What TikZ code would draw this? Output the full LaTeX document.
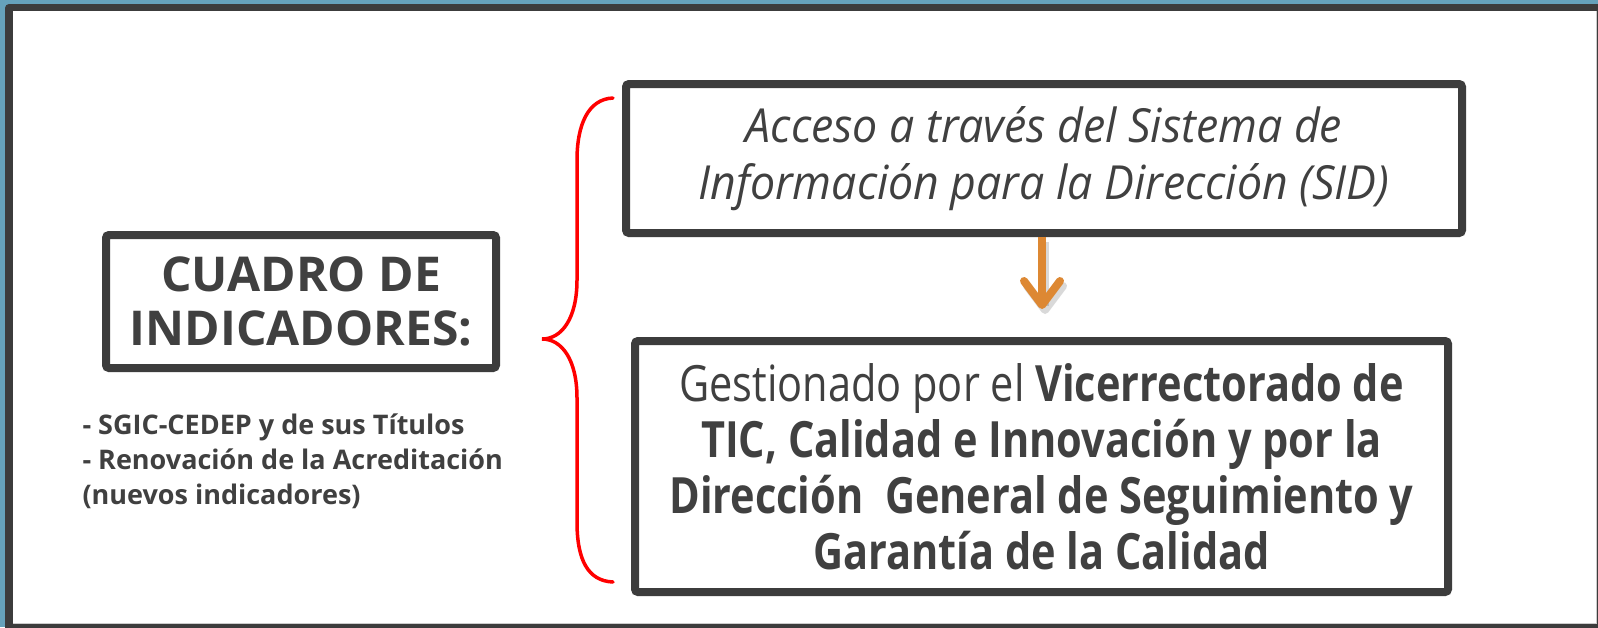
\documentclass[tikz,border=0pt]{standalone}
\usepackage{fontspec}
\setmainfont{Open Sans}
\newfontfamily\condfont[FakeStretch=0.83]{Open Sans}
\newfontfamily\slantfont[FakeStretch=0.95]{Open Sans}
\usetikzlibrary{arrows.meta}
\definecolor{slideblue}{RGB}{102,162,187}
\definecolor{framegrey}{RGB}{60,60,60}
\definecolor{textgrey}{RGB}{64,64,64}
\definecolor{accent}{RGB}{221,136,51}

\begin{document}
\begin{tikzpicture}[x=1pt, y=-1pt,
  box/.style={draw=framegrey, line width=8pt, rounded corners=3pt, fill=white,
    text=textgrey, align=center, inner sep=0pt},
  brace/.style={draw=red, line width=3.5pt, line cap=round},
  flow/.style={draw=accent, line width=8pt,
    -{Straight Barb[length=24pt, width=36pt, line cap=round, line join=round]}}]
  \useasboundingbox (0,0) rectangle (1598,627);
  % slide frame
  \fill[slideblue] (0,0) rectangle (1598,627);
  \fill[framegrey, rounded corners=4pt] (5,4) rectangle (1610,640);
  \fill[white] (13,11) rectangle (1596,623);
  \draw[gray!40, line width=1pt] (13,623) -- (1596,623) -- (1596,11);

  \node[box, minimum width=390pt, minimum height=133pt,
        font=\bfseries\fontsize{48}{54}\selectfont] (cuadro) at (301,301.5)
        {CUADRO DE\\INDICADORES:};
  \node[anchor=base west, align=left, text=textgrey,
        font=\bfseries\fontsize{27}{35}\selectfont] (ambito) at (79,504)
        {- SGIC-CEDEP y de sus Títulos\\- Renovación de la Acreditación\\(nuevos indicadores)};

  \node[box, minimum width=836pt, minimum height=149pt,
        font=\slantfont\itshape\fontsize{47}{57}\selectfont] (sid) at (1044,158.5)
        {Acceso a través del Sistema de\\Información para la Dirección (SID)};
  \node[box, minimum width=813pt, minimum height=251pt,
        font=\condfont\fontsize{50}{56}\selectfont] (gestion) at (1041.5,466.5)
        {Gestionado por el \textbf{Vicerrectorado de}\\\textbf{TIC, Calidad e Innovación y por la}\\
         \textbf{Dirección\ \ General de Seguimiento y}\\\textbf{Garantía de la Calidad}};

  % arrow between the two boxes
  \coordinate (flowend) at (1042,309);
  \draw[flow, draw=black, opacity=.15] ([shift={(3,5)}]sid.south -| flowend) -- ([shift={(3,5)}]flowend);
  \draw[flow] (sid.south -| flowend) -- (flowend);

  % brace
  \coordinate (bracetop) at (613,98);
  \coordinate (bracetip) at (542,339);
  \coordinate (bracebot) at (613,582);
  \draw[brace] (bracetop) .. controls (588,99) and (577,125) .. (577,160)
    -- (577,280) .. controls (577,318) and (562,339) .. (bracetip)
    .. controls (562,339) and (577,360) .. (577,398)
    -- (577,522) .. controls (577,560) and (588,581) .. (bracebot);
\end{tikzpicture}
\end{document}
